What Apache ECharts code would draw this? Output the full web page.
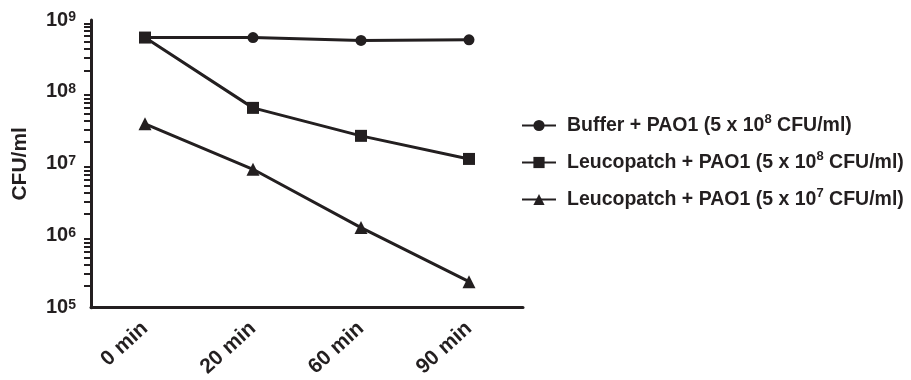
<!DOCTYPE html>
<html>
<head>
<meta charset="utf-8">
<script src="https://cdn.jsdelivr.net/npm/echarts@6/dist/echarts.min.js"></script>
<style>
html, body { margin: 0; padding: 0; background: #fff; }
#main { width: 911px; height: 380px; }
</style>
</head>
<body>
<div id="main"></div>
<script>
// 数据
var times = ['0 min', '20 min', '60 min', '90 min'];
var names = ['Buffer + PAO1 (5 x 10^8 CFU/ml)', 'Leucopatch + PAO1 (5 x 10^8 CFU/ml)', 'Leucopatch + PAO1 (5 x 10^7 CFU/ml)'];
var buffer8 = [5.7e8, 5.7e8, 5.2e8, 5.3e8];
var leuco8 = [5.7e8, 6.0e7, 2.45e7, 1.17e7];
var leuco7 = [3.6e7, 8.4e6, 1.3e6, 2.3e5];
var decades = [5, 6, 7, 8, 9];
var minorSteps = [2, 3, 4, 5, 6, 7, 8, 9];

var ink = '#231f20';

// 次刻度 (log10 位置)
var minorTicks = [];
for (var i = 0; i < decades.length - 1; i++) {
	for (var j = 0; j < minorSteps.length; j++) {
		minorTicks.push(decades[i] + Math.log10(minorSteps[j]));
	}
}

var myChart = echarts.init(document.getElementById('main'));

function mkSeries(name, data, symbol, size) {
	return {
		name: name,
		type: 'line',
		data: data,
		symbol: symbol,
		symbolSize: size,
		lineStyle: { color: ink, width: 3 },
		itemStyle: { color: ink },
		animation: false
	};
}

var option = {
	animation: false,
	grid: { left: 91, right: 388, top: 20, bottom: 72 },
	legend: {
		orient: 'vertical',
		left: 516,
		top: 108,
		itemWidth: 34,
		itemHeight: 14,
		itemGap: 12,
		formatter: function (n) {
			return n.replace(/\^(\d)/, '{sup|$1}');
		},
		textStyle: {
			fontFamily: 'Liberation Sans',
			fontWeight: 'bold',
			fontSize: 19.5,
			lineHeight: 25,
			padding: [0, 0, 0, 6],
			color: ink,
			rich: {
				sup: { fontFamily: 'Liberation Sans', fontWeight: 'bold', fontSize: 13, lineHeight: 14, verticalAlign: 'top', color: ink }
			}
		},
		data: names
	},
	xAxis: {
		type: 'category',
		data: times,
		boundaryGap: true,
		axisLine: { lineStyle: { color: ink, width: 3 } },
		axisTick: { alignWithLabel: true, length: 10, lineStyle: { color: ink, width: 3 } },
		axisLabel: {
			interval: 0,
			rotate: 42,
			margin: 18,
			fontFamily: 'Liberation Sans',
			fontWeight: 'bold',
			fontSize: 21,
			color: ink
		}
	},
	yAxis: [{
		type: 'log',
		logBase: 10,
		min: 1e5,
		max: 1e9,
		name: 'CFU/ml',
		nameLocation: 'middle',
		nameGap: 60,
		nameTextStyle: { fontFamily: 'Liberation Sans', fontWeight: 'bold', fontSize: 21, color: ink },
		splitLine: { show: false },
		axisLine: { show: true, lineStyle: { color: ink, width: 3 } },
		axisTick: { length: 12, lineStyle: { color: ink, width: 3 } },
		axisLabel: {
			margin: 15,
			fontFamily: 'Liberation Sans',
			fontWeight: 'bold',
			fontSize: 20,
			color: ink,
			formatter: function (v) {
				return '10{sup|' + Math.round(Math.log10(v)) + '}';
			},
			rich: {
				sup: { fontFamily: 'Liberation Sans', fontWeight: 'bold', fontSize: 14, lineHeight: 14, verticalAlign: 'top', color: ink }
			}
		}
	}, {
		// 次刻度轴
		type: 'value',
		min: 5,
		max: 9,
		position: 'left',
		splitLine: { show: false },
		axisLine: { show: false },
		axisLabel: { show: false },
		axisTick: { show: true, length: 7, customValues: minorTicks, lineStyle: { color: ink, width: 2 } }
	}],
	series: [
		mkSeries(names[0], buffer8, 'circle', 11),
		mkSeries(names[1], leuco8, 'rect', 12),
		mkSeries(names[2], leuco7, 'triangle', 13)
	]
};
myChart.setOption(option);
</script>
</body>
</html>
